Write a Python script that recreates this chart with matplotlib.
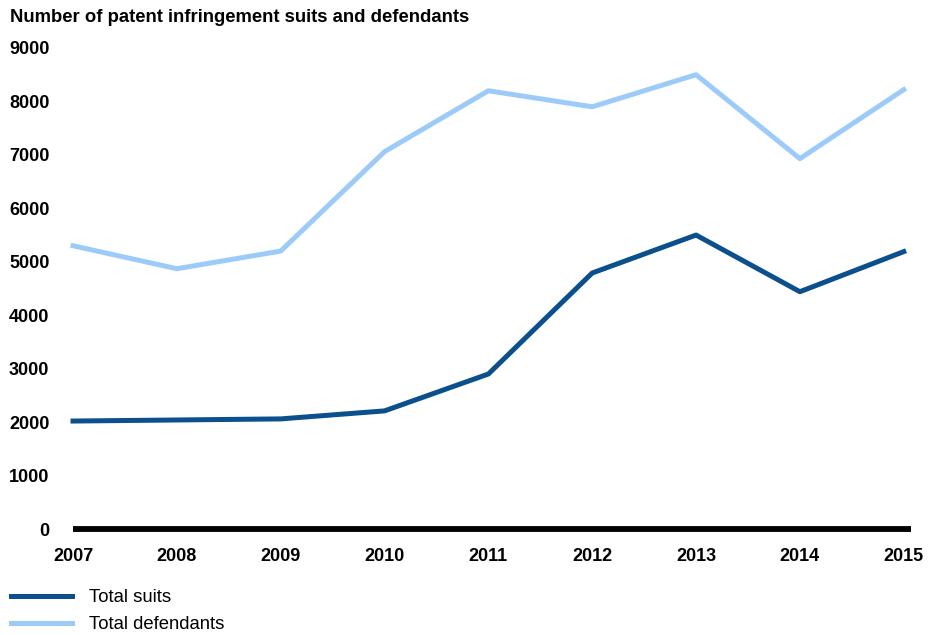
import matplotlib.pyplot as plt

plt.rcParams['font.family'] = ['Liberation Sans', 'DejaVu Sans']

years = [2007, 2008, 2009, 2010, 2011, 2012, 2013, 2014, 2015]
total_suits = [2020, 2040, 2060, 2210, 2900, 4790, 5500, 4440, 5190]
total_defendants = [5300, 4870, 5200, 7060, 8200, 7900, 8500, 6930, 8220]
y_ticks = [0, 1000, 2000, 3000, 4000, 5000, 6000, 7000, 8000, 9000]

fig = plt.figure(figsize=(9.41, 6.35), dpi=100)
ax = fig.add_axes([73 / 941, 106 / 635, 838 / 941, 481 / 635])

l1, = ax.plot(years, total_suits, color='#0b4f8c', linewidth=3.6,
              label='Total suits', clip_on=False)
l2, = ax.plot(years, total_defendants, color='#9dcbf9', linewidth=3.6,
              label='Total defendants', clip_on=False)
ax.axhline(0, color='black', linewidth=4.2, zorder=3, clip_on=False,
           solid_capstyle='butt')

ax.set_xlim(2007, 2015.07)
ax.set_ylim(0, 9000)
ax.set_xticks(years)
ax.set_xticklabels([str(y) for y in years], fontsize=13, fontweight='bold')
ax.set_yticks(y_ticks)
ax.set_yticklabels([str(v) for v in y_ticks], fontsize=13, fontweight='bold')
ax.tick_params(axis='both', length=0)
ax.tick_params(axis='y', pad=17)
ax.tick_params(axis='x', pad=14)
for s in ax.spines.values():
    s.set_visible(False)

fig.text(10 / 941, 1 - 18 / 635, 'Number of patent infringement suits and defendants',
         fontsize=13.3, fontweight='bold', va='center', ha='left')

fig.legend(handles=[l1, l2], loc='upper left', bbox_to_anchor=(0.0, 1 - 578 / 635),
           frameon=False, fontsize=13.3, handlelength=3.3, handletextpad=0.9,
           labelspacing=0.55, borderaxespad=0.2)

fig.savefig('out.png', dpi=100)
